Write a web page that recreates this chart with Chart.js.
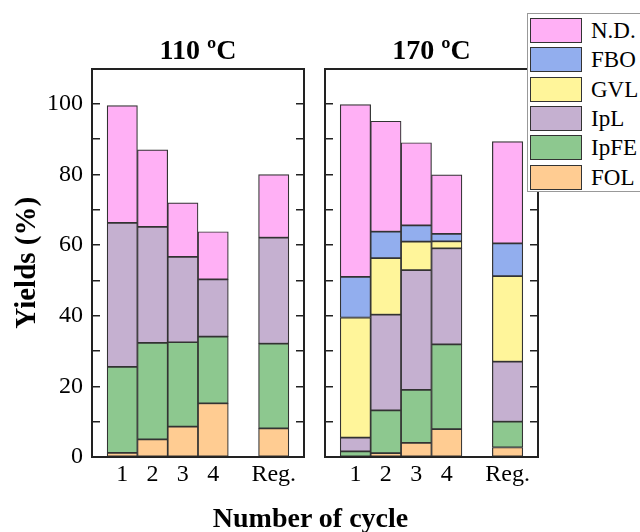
<!DOCTYPE html>
<html>
<head>
<meta charset="utf-8">
<script src="https://cdn.jsdelivr.net/npm/chart.js@4/dist/chart.umd.min.js"></script>
<style>
  body { margin: 0; background: #fff; }
  #wrap { position: relative; width: 640px; height: 532px; overflow: hidden; font-family: 'Liberation Serif', 'Times New Roman', serif; }
  canvas { position: absolute; top: 0; }
  #c110 { left: 0; }
  #c170 { left: 310px; }
  #xtitle { position: absolute; left: 0; width: 621px; top: 504px; text-align: center; font-size: 28px; line-height: 28px; font-weight: bold; }
  #legend { position: absolute; left: 527px; top: 13px; width: 130px; height: 179px; background: #fff; border: 1px solid #999; box-sizing: border-box; }
  .row { position: absolute; left: 2px; height: 26px; }
  .sw { position: absolute; left: 0; top: 0; width: 52px; height: 25px; border: 1.5px solid #333; box-sizing: border-box; }
  .lb { position: absolute; left: 61px; top: 0; font-size: 23px; line-height: 26px; white-space: nowrap; color: #000; }
</style>
</head>
<body>
<div id="wrap">
  <canvas id="c110" width="320" height="532"></canvas>
  <canvas id="c170" width="330" height="532"></canvas>
  <div id="xtitle">Number of cycle</div>
  <div id="legend"></div>
</div>
<script>
const cycles = ['1', '2', '3', '4', 'Reg.'];
const slots = ['', '1', '2', '3', '4', '', 'Reg.', ''];
const yTicks = [0, 20, 40, 60, 80, 100];

const series = ['N.D.', 'FBO', 'GVL', 'IpL', 'IpFE', 'FOL'];
const colores = ['#FFB0F5', '#92AEEE', '#FFF59A', '#C5B0D0', '#8DC88F', '#FFCC92'];

// 110 ºC
const fol110 = [1.2, 5.0, 8.6, 15.2, 8.1];
const ipfe110 = [24.3, 27.3, 23.9, 18.9, 24.0];
const ipl110 = [40.8, 32.9, 24.2, 16.2, 30.0];
const gvl110 = [0, 0, 0, 0, 0];
const fbo110 = [0, 0, 0, 0, 0];
const nd110 = [33.2, 21.8, 15.3, 13.5, 17.9];

// 170 ºC
const fol170 = [0, 1.1, 4.0, 7.9, 2.7];
const ipfe170 = [1.6, 12.1, 15.0, 24.0, 7.3];
const ipl170 = [3.9, 27.1, 33.9, 27.2, 17.0];
const gvl170 = [34.0, 16.0, 8.1, 2.0, 24.2];
const fbo170 = [11.5, 7.5, 4.6, 2.1, 9.3];
const nd170 = [48.8, 31.3, 23.4, 16.7, 28.8];

const FONT = "'Liberation Serif', 'Times New Roman', serif";
const FRAME = '#222';

function enSlots(valores) {
    return slots.map(s => {
        const i = cycles.indexOf(s);
        if (s === '' || i < 0) return null;
        return valores[i] > 0 ? valores[i] : null;
    });
}

function armarDatasets(arr) {
    // arr en orden de series (N.D. ... FOL), se apila desde FOL
    const ds = [];
    for (let k = series.length - 1; k >= 0; k--) {
        ds.push({
            label: series[k],
            data: enSlots(arr[k]),
            backgroundColor: colores[k],
            borderColor: '#333',
            borderWidth: 1.2,
            borderSkipped: false,
            barPercentage: 1,
            categoryPercentage: 1
        });
    }
    return ds;
}

function crearPanel(id, titulo, arr, izquierda) {
    const ctx = document.getElementById(id);
    return new Chart(ctx, {
        type: 'bar',
        data: { labels: slots, datasets: armarDatasets(arr) },
        options: {
            responsive: false,
            animation: false,
            layout: { padding: { left: 0, right: izquierda ? 16 : 102, top: 0, bottom: 35 } },
            plugins: {
                legend: { display: false },
                tooltip: { enabled: false },
                title: {
                    display: true,
                    text: titulo,
                    fullSize: false,
                    color: '#000',
                    font: { family: FONT, size: 28, weight: 'bold' },
                    padding: { top: 35, bottom: 0 }
                }
            },
            scales: {
                x: {
                    stacked: true,
                    offset: false,
                    grid: { display: false, drawTicks: false },
                    border: { color: FRAME, width: 2 },
                    ticks: { color: '#000', font: { family: FONT, size: 24 }, padding: 3, autoSkip: false, maxRotation: 0 },
                    afterFit: s => { s.height = 40; }
                },
                top: {
                    type: 'linear', position: 'top', min: 0, max: 1,
                    grid: { display: false },
                    ticks: { display: false },
                    border: { color: FRAME, width: 2 },
                    afterFit: s => { s.height = 0; }
                },
                y: {
                    stacked: true,
                    min: 0, max: 110,
                    grid: { drawOnChartArea: false, drawTicks: true, tickLength: -8, color: FRAME, lineWidth: 1.5 },
                    border: { color: FRAME, width: 2 },
                    ticks: {
                        display: izquierda,
                        stepSize: 10,
                        color: '#000',
                        font: { family: FONT, size: 24 },
                        padding: 17,
                        callback: v => yTicks.includes(v) ? v : ''
                    },
                    title: {
                        display: izquierda,
                        text: 'Yields (%)',
                        color: '#000',
                        font: { family: FONT, size: 29, weight: 'bold' },
                        padding: { top: 10, bottom: 0 }
                    },
                    afterFit: s => { s.width = izquierda ? 92 : 15; }
                },
                yr: {
                    position: 'right',
                    min: 0, max: 110,
                    grid: { drawOnChartArea: false, drawTicks: true, tickLength: -8, color: FRAME, lineWidth: 1.5 },
                    border: { color: FRAME, width: 2 },
                    ticks: { display: false, stepSize: 10 },
                    afterFit: s => { s.width = 0; }
                }
            }
        }
    });
}

crearPanel('c110', '110 ºC', [nd110, fbo110, gvl110, ipl110, ipfe110, fol110], true);
const chart170 = crearPanel('c170', '170 ºC', [nd170, fbo170, gvl170, ipl170, ipfe170, fol170], false);

// leyenda armada desde los datasets del panel 170
const leyenda = document.getElementById('legend');
chart170.data.datasets.slice().reverse().forEach((d, i) => {
    const row = document.createElement('div');
    row.className = 'row';
    row.style.top = (4 + i * 29.3) + 'px';
    row.innerHTML = `<div class="sw" style="background:${d.backgroundColor}"></div><div class="lb">${d.label}</div>`;
    leyenda.appendChild(row);
});
</script>
</body>
</html>
